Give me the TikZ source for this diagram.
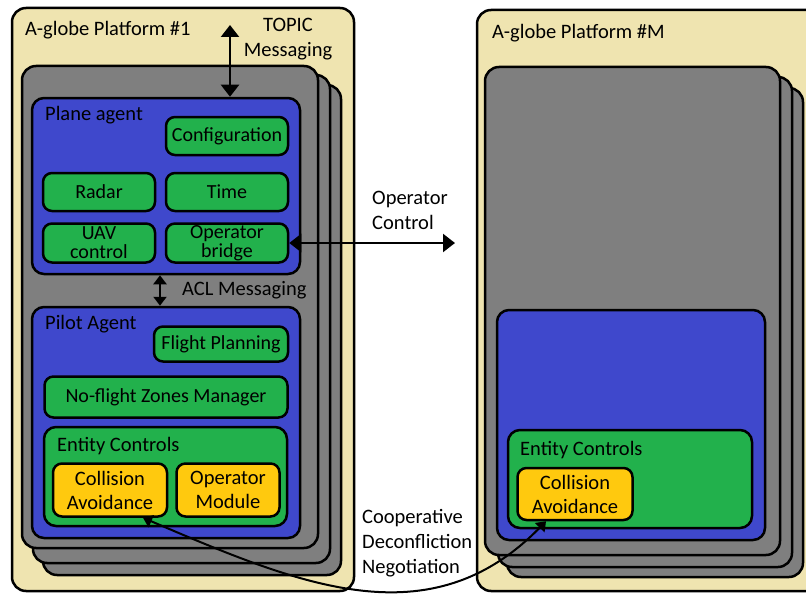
\documentclass[tikz,border=0pt]{standalone}
\usepackage{fontspec}
\setmainfont{Carlito}
\usetikzlibrary{arrows.meta,fit}
\definecolor{platcol}{HTML}{EFE4B0}
\definecolor{contcol}{HTML}{7F7F7F}
\definecolor{agentcol}{HTML}{3F48CC}
\definecolor{modcol}{HTML}{22B14C}
\definecolor{subcol}{HTML}{FFC90E}
\begin{document}
\begin{tikzpicture}[x=1pt,y=-1pt,
    plat/.style={draw,line width=2.5pt,fill=platcol,rounded corners=14pt,inner sep=0pt},
    cont/.style={draw,line width=2.5pt,fill=contcol,rounded corners=14pt,inner sep=0pt},
    agent/.style={draw,line width=2.5pt,fill=agentcol,rounded corners=12pt,inner sep=0pt},
    group/.style={draw,line width=2.5pt,fill=modcol,rounded corners=12pt,inner sep=0pt},
    module/.style={draw,line width=2.5pt,fill=modcol,rounded corners=9pt,align=center,
      inner sep=0pt,font=\fontsize{20}{19}\selectfont},
    sub/.style={draw,line width=2.5pt,fill=subcol,rounded corners=9pt,align=center,
      inner sep=0pt,font=\fontsize{20.5}{24}\selectfont},
    lbl/.style={anchor=west,inner sep=0pt,font=\fontsize{20.5}{25}\selectfont},
    note/.style={inner sep=0pt,font=\fontsize{20.5}{25}\selectfont},
    link/.style={line width=2.2pt,{Triangle[length=12pt,width=18pt]}-{Triangle[length=12pt,width=18pt]}},
    small/.style={line width=2pt,{Triangle[length=9pt,width=13pt]}-{Triangle[length=9pt,width=13pt]}},
  ]
  \useasboundingbox (0,0) rectangle (806,594);
  \clip (0,0) rectangle (806,594);
  % platform 1
  \node[plat,fit={(12,8) (354,591)}] (plat1) {};
  \node[cont,fit={(43,85) (341,575)}] (stack1c) {};
  \node[cont,fit={(33,75) (330,563)}] (stack1b) {};
  \node[cont,fit={(22,66) (318,548)}] (stack1a) {};
  \node[lbl] (plat1lbl) at (25,30) {A-globe Platform \#1};
  \node[agent,fit={(32,98) (300,274)}] (plane) {};
  \node[lbl] (planelbl) at (45,115) {Plane agent};
  \node[module,minimum width=122,minimum height=38] (conf) at (227,136) {Configuration};
  \node[module,minimum width=112,minimum height=38] (radar) at (99,192) {Radar};
  \node[module,minimum width=122,minimum height=38] (time) at (227,192) {Time};
  \node[module,minimum width=112,minimum height=39] (uav) at (99,243) {UAV\\control};
  \node[module,minimum width=122,minimum height=39] (bridge) at (227,243) {Operator\\bridge};
  \node[agent,fit={(32,307) (300,538)}] (pilot) {};
  \node[lbl] (pilotlbl) at (45,324) {Pilot Agent};
  \node[module,minimum width=134,minimum height=35] (plan) at (221,344) {Flight Planning};
  \node[module,minimum width=243,minimum height=41] (zones) at (166,397) {No-flight Zones Manager};
  \node[group,fit={(44,427) (287,526)}] (ent1) {};
  \node[lbl] (ent1lbl) at (57,446) {Entity Controls};
  \node[sub,minimum width=114,minimum height=53] (ca1) at (110,490) {Collision\\Avoidance};
  \node[sub,minimum width=103,minimum height=53] (opmod) at (228,490) {Operator\\Module};
  % platform M
  \node[plat,fit={(477,10) (840,591)}] (platm) {};
  \node[cont,fit={(507,88) (803,577)}] (stackmc) {};
  \node[cont,fit={(498,77) (792,567)}] (stackmb) {};
  \node[cont,fit={(485,67) (780,555)}] (stackma) {};
  \node[lbl] (platmlbl) at (492,33) {A-globe Platform \#M};
  \node[agent,fit={(497,310) (765,540)}] (agentm) {};
  \node[group,fit={(508,430) (752,528)}] (entm) {};
  \node[lbl] (entmlbl) at (520,450) {Entity Controls};
  \node[sub,minimum width=115,minimum height=52] (ca2) at (575,494) {Collision\\Avoidance};
  % messaging
  \node[note,align=center] (topiclbl) at (288,39) {TOPIC\\Messaging};
  \node[lbl] (acllbl) at (182,290) {ACL Messaging};
  \node[note,align=left,anchor=west] (oplbl) at (372,210) {Operator\\Control};
  \node[note,align=left,anchor=west] (negolbl) at (362,543) {Cooperative\\Deconfliction\\Negotiation};
  \coordinate (topic) at (230,25);
  \coordinate (opend) at (455,243);
  \draw[link] (topic) -- (topic |- plane.north);
  \draw[small] ([xshift=-6]plane.south) -- ([xshift=-6]pilot.north);
  \draw[link] (bridge.east) -- (opend);
  \draw[small] ([xshift=33]ca1.south) .. controls (300,585) and (430,640) .. ([xshift=-29]ca2.south);
\end{tikzpicture}
\end{document}
